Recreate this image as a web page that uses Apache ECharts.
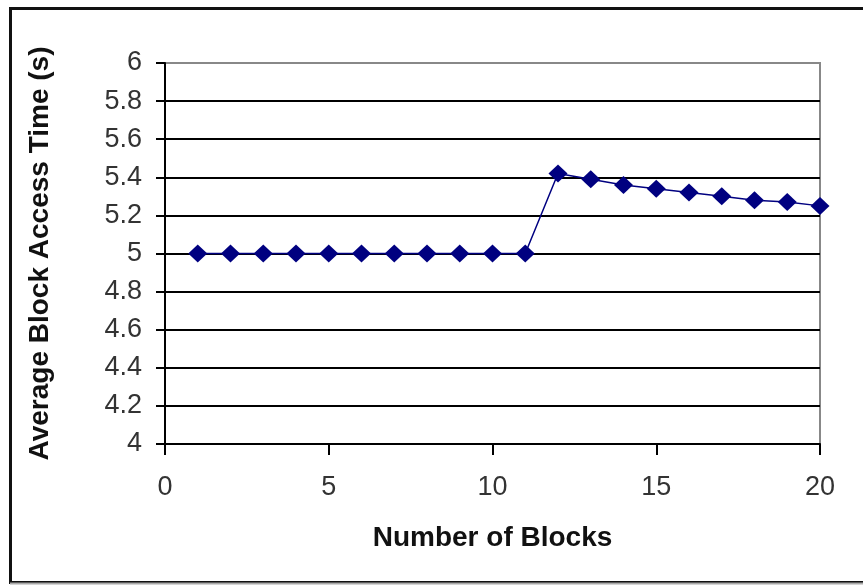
<!DOCTYPE html>
<html>
<head>
<meta charset="utf-8">
<script src="https://cdn.jsdelivr.net/npm/echarts@6/dist/echarts.min.js"></script>
<style>html,body{margin:0;padding:0;background:#fff}#c{width:863px;height:585px}</style>
</head>
<body>
<div id="c"></div>
<script>
var blocks = [1,2,3,4,5,6,7,8,9,10,11,12,13,14,15,16,17,18,19,20];
var accessTime = [5,5,5,5,5,5,5,5,5,5,5,5.42,5.39,5.36,5.34,5.32,5.30,5.28,5.27,5.25];
var xTitle = 'Number of Blocks';
var yTitle = 'Average Block Access Time (s)';

var chart = echarts.init(document.getElementById('c'), null, {renderer:'canvas'});
chart.setOption({
  animation: false,
  backgroundColor: '#fff',
  graphic: [
    {type:'rect', shape:{x:10.5, y:8.5, width:900, height:574}, style:{fill:'none', stroke:'#111', lineWidth:3}, z:0},
    {type:'line', shape:{x1:10, y1:583.5, x2:863, y2:583.5}, style:{stroke:'#aaa', lineWidth:2}, z:1}
  ],
  grid: {left:165, right:43, top:63, bottom:141, show:true, borderColor:'#888', borderWidth:2, backgroundColor:'transparent'},
  xAxis: {
    type:'value', min:0, max:20, interval:5,
    name: xTitle, nameLocation:'middle', nameGap:80,
    nameTextStyle:{fontFamily:'Liberation Sans', fontSize:28, fontWeight:'bold', color:'#111'},
    axisLine:{show:true, lineStyle:{color:'#000', width:2}},
    axisTick:{show:true, length:11, lineStyle:{color:'#000', width:2}},
    axisLabel:{fontFamily:'Liberation Sans', fontSize:27, color:'#333', margin:30},
    splitLine:{show:false}
  },
  yAxis: {
    type:'value', min:4, max:6, interval:0.2,
    name: yTitle, nameLocation:'middle', nameGap:111,
    nameTextStyle:{fontFamily:'Liberation Sans', fontSize:28, fontWeight:'bold', color:'#111'},
    axisLine:{show:true, lineStyle:{color:'#000', width:2}},
    axisTick:{show:true, length:9, lineStyle:{color:'#000', width:2}},
    axisLabel:{fontFamily:'Liberation Sans', fontSize:27, color:'#333', margin:23,
      formatter:function(v){return String(Math.round(v*10)/10);}},
    splitLine:{show:true, showMaxLine:false, lineStyle:{color:'#000', width:2}}
  },
  series: [{
    type:'line',
    data: blocks.map(function(b,i){return [b, accessTime[i]];}),
    symbol:'diamond', symbolSize:[19,18],
    lineStyle:{color:'#000080', width:1.5},
    itemStyle:{color:'#000080'},
    z:5
  }]
});
</script>
</body>
</html>
